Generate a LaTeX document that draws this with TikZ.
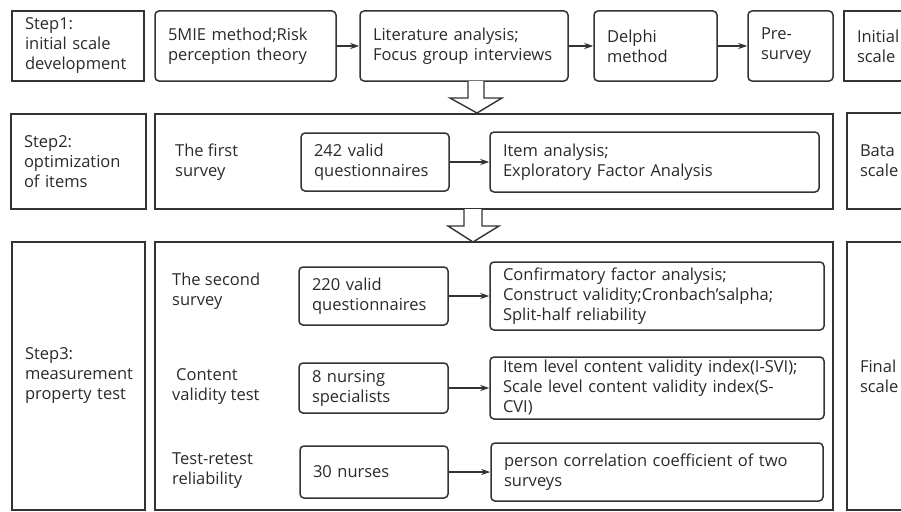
\documentclass[tikz,border=0pt]{standalone}
\usepackage{fontspec}
\setmainfont{Open Sans}
\usetikzlibrary{arrows.meta}
\hyphenpenalty=10000
\exhyphenpenalty=10000
\definecolor{ln}{HTML}{333333}
\definecolor{tx}{HTML}{2A2A2A}
\tikzset{
  txtfont/.style={font=\fontsize{16.5}{20}\selectfont},
  base/.style={draw=ln, line width=1.5pt, text=tx, align=left, inner xsep=13pt, inner ysep=2pt, txtfont},
  sq/.style={base},
  rd/.style={base, rounded corners=4pt},
  lbl/.style={text=tx, align=left, anchor=west, inner sep=0pt, txtfont},
  conn/.style={draw=ln, line width=1.5pt, -{Stealth[length=9pt,width=6pt]}},
  hollow/.style={draw=ln, line width=1.4pt, fill=white, line join=miter}
}
\newcommand\bx[7]{%
  \pgfmathsetmacro\tw{#4-#2-26}%
  \node[#6, minimum width={#4-#2}, minimum height={#5-#3}, text width=\tw pt]
    (#1) at ({(#2+#4)/2},{(#3+#5)/2}) {#7};}
\begin{document}
\begin{tikzpicture}[x=1pt,y=-1pt]
\useasboundingbox (0,0) rectangle (901,511);
\clip (0,0) rectangle (901,511);
% Row 1
\bx{s1}{12}{11}{144}{81}{sq}{Step1:\\initial~scale\\development}
\bx{mie}{155}{11}{336}{81}{rd}{5MIE~method;Risk\\perception~theory}
\bx{lit}{360}{11}{568}{81}{rd}{Literature~analysis;\\Focus~group~interviews}
\bx{del}{594}{11}{717}{81}{rd}{Delphi\\method}
\bx{pre}{748}{11}{833}{81}{rd}{Pre-\\survey}
\bx{ini}{844}{11}{960}{81}{sq}{Initial\\scale}
\draw[conn] (mie.east) -- (mie.east -| lit.west);
\draw[conn] (lit.east) -- (lit.east -| del.west);
\draw[conn] (del.east) -- (del.east -| pre.west);
% Row 2
\bx{s2}{11}{114}{146}{209}{sq}{Step2:\\optimization\\of~items}
\bx{m2}{155}{114}{833}{209}{sq}{}
\node[lbl] (fs) at (175,162) {The first\\survey};
\bx{q242}{301}{133}{449}{191}{rd}{242~valid\\questionnaires}
\bx{ia}{490}{132}{819}{192}{rd}{Item~analysis;\\Exploratory~Factor~Analysis}
\bx{bata}{847}{113}{960}{209}{sq}{Bata\\scale}
\draw[conn] (q242.east) -- (q242.east -| ia.west);
% Row 3
\bx{s3}{12}{242}{145}{510}{sq}{Step3:\\measurement\\property~test}
\bx{m3}{155}{242}{833}{510}{sq}{}
\node[lbl] (ss) at (172,291) {The second\\survey};
\node[lbl] (cv) at (172,387) {\hspace*{4pt}Content\\validity test};
\node[lbl] (tr) at (172,471) {Test-retest\\reliability};
\bx{q220}{299}{267}{448}{325}{rd}{220~valid\\questionnaires}
\bx{cfa}{490}{262}{824}{330}{rd}{Confirmatory~factor~analysis;\\Construct~validity;Cronbach'salpha;\\Split-half~reliability}
\bx{nur8}{299}{363}{448}{413}{rd}{8~nursing\\specialists}
\bx{ilv}{490}{357}{824}{419}{rd}{Item~level~content~validity~index(I-SVI);\\Scale~level~content~validity~index(S-\\CVI)}
\bx{nur30}{300}{446}{448}{498}{rd}{30~nurses}
\bx{pcc}{491}{443}{823}{501}{rd}{person~correlation~coefficient~of~two\\surveys}
\bx{fin}{847}{242}{960}{510}{sq}{Final\\scale}
\draw[conn] (q220.east) -- (q220.east -| cfa.west);
\draw[conn] (nur8.east) -- (nur8.east -| ilv.west);
\draw[conn] (nur30.east) -- (nur30.east -| pcc.west);
% Hollow arrows
\draw[hollow] (468,81) -- (468,98) -- (450,98) -- (477,113) -- (502,98) -- (484,98) -- (484,81);
\draw[hollow] (464,209) -- (464,226) -- (448,226) -- (473,242) -- (499,226) -- (482,226) -- (482,209);
\end{tikzpicture}
\end{document}
